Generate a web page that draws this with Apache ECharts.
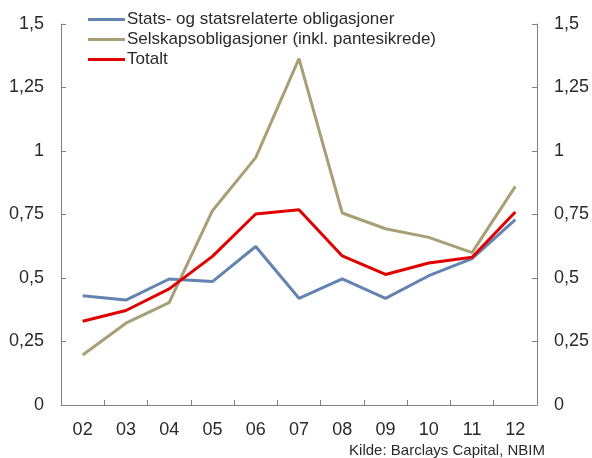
<!DOCTYPE html>
<html>
<head>
<meta charset="utf-8">
<script src="https://cdn.jsdelivr.net/npm/echarts@6/dist/echarts.min.js"></script>
<style>
  html, body { margin: 0; padding: 0; background: #fff; }
  #chart { width: 592px; height: 458px; }
</style>
</head>
<body>
<div id="chart"></div>
<script>
const years = ['02', '03', '04', '05', '06', '07', '08', '09', '10', '11', '12']
const stats = [0.43, 0.413, 0.496, 0.486, 0.624, 0.42, 0.497, 0.42, 0.509, 0.576, 0.73]
const selskap = [0.197, 0.322, 0.403, 0.765, 0.974, 1.364, 0.756, 0.694, 0.66, 0.60, 0.861]
const totalt = [0.33, 0.372, 0.457, 0.585, 0.752, 0.769, 0.587, 0.514, 0.559, 0.582, 0.76]

const names = ['Stats- og statsrelaterte obligasjoner', 'Selskapsobligasjoner (inkl. pantesikrede)', 'Totalt']
const colors = ['#6383b0', '#a89f77', '#e00000']

const font = 'Liberation Sans, Arial, sans-serif'
const fmt = v => String(v).replace('.', ',')

const chart = echarts.init(document.getElementById('chart'))

const valueAxis = (pos) => ({
  type: 'value',
  position: pos,
  min: 0,
  max: 1.5,
  interval: 0.25,
  axisLine: { show: true, lineStyle: { color: '#808080', width: 1 } },
  axisTick: { show: true, inside: true, length: 5, lineStyle: { color: '#808080' } },
  splitLine: { show: false },
  axisLabel: { margin: 17, color: '#2a2a2a', fontSize: 18, fontFamily: font, formatter: fmt }
})

chart.setOption({
  animation: false,
  grid: { left: 61, right: 53, top: 24, bottom: 53, containLabel: false },
  legend: {
    left: 83,
    top: 6,
    orient: 'vertical',
    itemGap: 3,
    itemWidth: 37,
    itemHeight: 20,
    icon: 'path://M0,9 L37,9 L37,12 L0,12 Z',
    textStyle: { fontSize: 17, color: '#2a2a2a', fontFamily: font, padding: [0, 0, 0, -3] },
    data: names
  },
  graphic: [{
    type: 'text',
    right: 47,
    top: 443,
    style: { text: 'Kilde: Barclays Capital, NBIM', fontSize: 15, fill: '#2a2a2a', fontFamily: font }
  }],
  xAxis: {
    type: 'category',
    data: years,
    boundaryGap: true,
    axisLine: { show: true, lineStyle: { color: '#808080', width: 1 } },
    axisTick: { show: true, inside: true, length: 5, lineStyle: { color: '#808080' } },
    axisLabel: { margin: 16, color: '#2a2a2a', fontSize: 18, fontFamily: font }
  },
  yAxis: [valueAxis('left'), valueAxis('right')],
  series: [
    { name: names[0], type: 'line', data: stats, color: colors[0], symbol: 'none', lineStyle: { width: 3 } },
    { name: names[1], type: 'line', data: selskap, color: colors[1], symbol: 'none', lineStyle: { width: 3 } },
    { name: names[2], type: 'line', data: totalt, color: colors[2], symbol: 'none', lineStyle: { width: 3 } }
  ]
})
</script>
</body>
</html>
